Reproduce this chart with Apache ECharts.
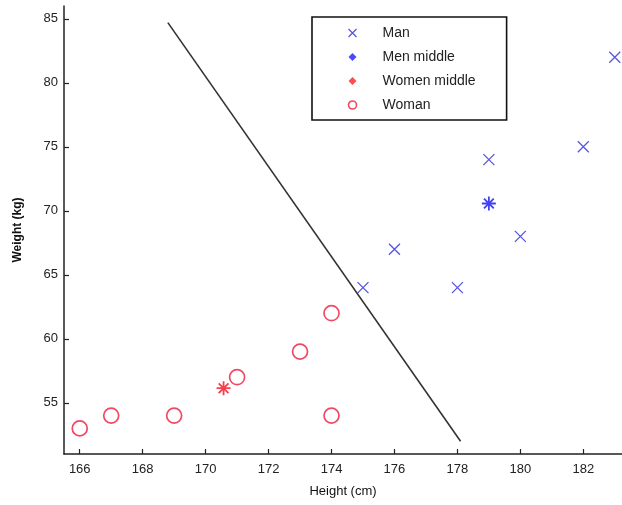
<!DOCTYPE html>
<html><head><meta charset="utf-8">
<script src="https://cdn.jsdelivr.net/npm/echarts@6/dist/echarts.min.js"></script>
<style>html,body{margin:0;padding:0;background:#fff}#c{width:622px;height:505px}</style>
</head><body><div id="c"></div>
<script>
// Data
const manPoints = [[175,64],[176,67],[178,64],[179,74],[180,68],[182,75],[183,82]];
const menMiddle = [[179,70.57]];
const womenMiddle = [[170.57,56.14]];
const womanPoints = [[166,53],[167,54],[169,54],[171,57],[173,59],[174,62],[174,54]];
const boundaryLine = [[168.8,84.7],[178.1,52.0]];
const xTicks = [166,168,170,172,174,176,178,180,182];
const yTicks = [55,60,65,70,75,80,85];
const seriesNames = ['Man','Men middle','Women middle','Woman'];

const BLUE = '#2a2ad8', RED = '#ee1c3c';
const X_PATH = 'path://M0,0L10,10M10,0L0,10';
const STAR_PATH = 'path://M5,0L5,10M0,5L10,5M1.5,1.5L8.5,8.5M8.5,1.5L1.5,8.5';

const chart = echarts.init(document.getElementById('c'), null, {renderer:'canvas'});
const axisCommon = {
  axisLine:{show:true, onZero:false, lineStyle:{color:'#222', width:1.5}},
  axisTick:{show:true, inside:true, length:5, lineStyle:{color:'#222', width:1.2}},
  splitLine:{show:false},
  axisLabel:{color:'#222', fontFamily:'Liberation Sans, Arial', fontSize:13},
  nameTextStyle:{color:'#111', fontFamily:'Liberation Sans, Arial', fontSize:13}
};
chart.setOption({
  animation:false,
  backgroundColor:'#fff',
  grid:{left:64, right:0, top:6, bottom:51, containLabel:false},
  legend:{
    orient:'vertical', left:312, top:17,
    padding:[9,31,8,34], itemGap:10, itemWidth:8, itemHeight:8,
    borderColor:'#111', borderWidth:1.6, backgroundColor:'#fff',
    textStyle:{fontFamily:'Liberation Sans, Arial', fontSize:14, color:'#222', lineHeight:14, padding:[0,0,0,21]},
    data:[
      {name:'Man', icon:X_PATH, itemStyle:{color:'none', borderColor:BLUE, borderWidth:1.2}},
      {name:'Men middle', icon:'diamond', itemStyle:{color:'#1a1aff', borderWidth:0}},
      {name:'Women middle', icon:'diamond', itemStyle:{color:'#ff2020', borderWidth:0}},
      {name:'Woman', icon:'circle', itemStyle:{color:'none', borderColor:RED, borderWidth:1.6}}
    ]
  },
  xAxis:Object.assign({}, axisCommon, {
    type:'value', min:165.5, max:183.23,
    name:'Height (cm)', nameLocation:'middle', nameGap:31,
    axisTick:Object.assign({}, axisCommon.axisTick, {customValues:xTicks}),
    axisLabel:Object.assign({}, axisCommon.axisLabel, {customValues:xTicks, margin:9})
  }),
  yAxis:Object.assign({}, axisCommon, {
    type:'value', min:51, max:86,
    name:'Weight (kg)', nameLocation:'middle', nameGap:40,
    nameTextStyle:Object.assign({}, axisCommon.nameTextStyle, {fontWeight:'bold', fontSize:12}),
    axisTick:Object.assign({}, axisCommon.axisTick, {customValues:yTicks}),
    axisLabel:Object.assign({}, axisCommon.axisLabel, {customValues:yTicks, margin:6})
  }),
  series:[
    {type:'line', name:'boundary', data:boundaryLine, symbol:'none', silent:true,
     lineStyle:{color:'#333', width:1.6}, z:1},
    {type:'scatter', name:seriesNames[0], data:manPoints, symbol:X_PATH, symbolSize:11,
     itemStyle:{color:'none', borderColor:BLUE, borderWidth:1.3}, z:3},
    {type:'scatter', name:seriesNames[1], data:menMiddle, symbol:STAR_PATH, symbolSize:14,
     itemStyle:{color:'none', borderColor:'#1010ee', borderWidth:1.8}, z:3},
    {type:'scatter', name:seriesNames[2], data:womenMiddle, symbol:STAR_PATH, symbolSize:14,
     itemStyle:{color:'none', borderColor:'#f01020', borderWidth:1.8}, z:3},
    {type:'scatter', name:seriesNames[3], data:womanPoints, symbol:'circle', symbolSize:15,
     itemStyle:{color:'none', borderColor:RED, borderWidth:1.7}, z:3}
  ]
});
</script></body></html>
